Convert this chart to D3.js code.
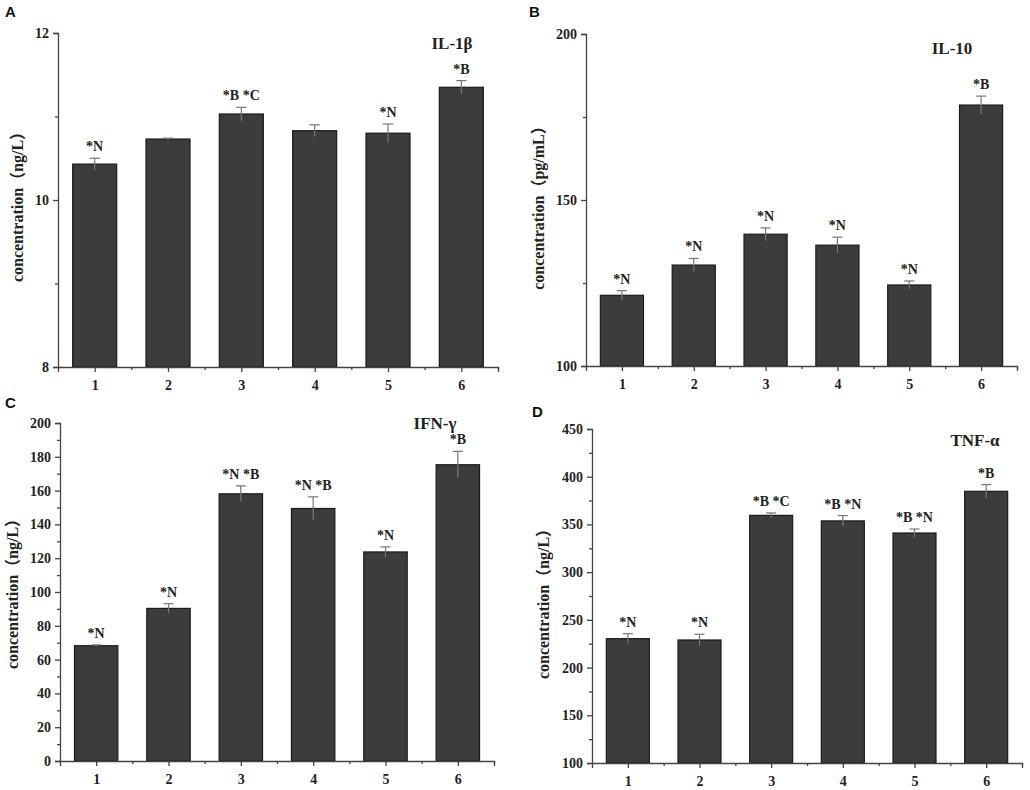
<!DOCTYPE html>
<html>
<head>
<meta charset="utf-8">
<script src="https://cdn.jsdelivr.net/npm/d3@7"></script>
<style>
  body { margin: 0; background: #fff; }
  svg { display: block; }
  .tick text { font-family: "Liberation Serif", "Times New Roman", serif; font-weight: bold; font-size: 14px; fill: #222; }
  .domain, .tick line { stroke: #444; stroke-width: 1.3px; }
</style>
</head>
<body>
<svg width="1030" height="790"></svg>
<script>
// groups on the x axis
var groups = [1, 2, 3, 4, 5, 6];

// A: IL-1beta (ng/L)
var il1bMean = [10.43, 10.73, 11.03, 10.83, 10.80, 11.35];
var il1bErr = [0.07, 0.01, 0.08, 0.07, 0.11, 0.08];
var il1bMarks = ["*N", "", "*B *C", "", "*N", "*B"];
var il1bTicks = [8, 10, 12];
var il1bMinor = [9, 11];

// B: IL-10 (pg/mL)
var il10Mean = [121.3, 130.4, 139.7, 136.4, 124.4, 178.6];
var il10Err = [1.4, 2.0, 1.9, 2.4, 1.2, 2.7];
var il10Marks = ["*N", "*N", "*N", "*N", "*N", "*B"];
var il10Ticks = [100, 150, 200];
var il10Minor = [125, 175];

// C: IFN-gamma (ng/L)
var ifnMean = [68.2, 90.3, 158.1, 149.4, 123.7, 175.3];
var ifnErr = [0.5, 2.8, 4.7, 6.9, 3.0, 7.9];
var ifnMarks = ["*N", "*N", "*N *B", "*N *B", "*N", "*B"];
var ifnTicks = [0, 20, 40, 60, 80, 100, 120, 140, 160, 180, 200];
var ifnMinor = [10, 30, 50, 70, 90, 110, 130, 150, 170, 190];

// D: TNF-alpha (ng/L)
var tnfMean = [230.3, 228.9, 359.5, 353.7, 341.0, 384.7];
var tnfErr = [5.2, 6.0, 2.5, 5.6, 4.2, 7.0];
var tnfMarks = ["*N", "*N", "*B *C", "*B *N", "*B *N", "*B"];
var tnfTicks = [100, 150, 200, 250, 300, 350, 400, 450];
var tnfMinor = [125, 175, 225, 275, 325, 375, 425];

var svg = d3.select("svg");
var serif = "'Liberation Serif', 'Times New Roman', 'Noto Sans CJK SC', serif";

function panel(o) {
  var x = d3.scaleLinear().domain([0.5, 6.5]).range([o.x0, o.x1]);
  var y = d3.scaleLinear().domain(o.domain).range([o.y1, o.y0]);
  var g = svg.append("g");

  // bars
  g.selectAll("rect.bar").data(o.mean).enter().append("rect")
    .attr("class", "bar")
    .attr("x", function(d, i) { return x(groups[i] - 0.3); })
    .attr("width", x(0.6) - x(0))
    .attr("y", function(d) { return y(d); })
    .attr("height", function(d) { return y(o.domain[0]) - y(d); })
    .attr("fill", "#3c3c3c")
    .attr("stroke", "#1a1a1a")
    .attr("stroke-width", 1.2);

  // error bars
  var eb = g.selectAll("g.err").data(o.mean).enter().append("g").attr("class", "err")
    .attr("stroke", "#777").attr("stroke-width", 1.2);
  eb.append("line")
    .attr("x1", function(d, i) { return x(groups[i]); })
    .attr("x2", function(d, i) { return x(groups[i]); })
    .attr("y1", function(d, i) { return y(d - o.err[i]); })
    .attr("y2", function(d, i) { return y(d + o.err[i]); });
  eb.append("line")
    .attr("x1", function(d, i) { return x(groups[i] - 0.07); })
    .attr("x2", function(d, i) { return x(groups[i] + 0.07); })
    .attr("y1", function(d, i) { return y(d + o.err[i]); })
    .attr("y2", function(d, i) { return y(d + o.err[i]); });

  // significance marks
  g.selectAll("text.mark").data(o.marks).enter().append("text")
    .attr("class", "mark")
    .attr("x", function(d, i) { return x(groups[i]); })
    .attr("y", function(d, i) { return y(o.mean[i] + o.err[i]) - 7; })
    .attr("text-anchor", "middle")
    .attr("font-family", serif).attr("font-weight", "bold").attr("font-size", 14)
    .attr("fill", "#222")
    .text(function(d) { return d; });

  // axes
  g.append("g").attr("transform", "translate(0," + o.y1 + ")")
    .call(d3.axisBottom(x).tickValues(groups).tickFormat(d3.format("d")).tickSizeOuter(0).tickSize(5).tickPadding(8));
  g.append("g").attr("transform", "translate(0," + o.y1 + ")")
    .call(d3.axisBottom(x).tickValues([1.5, 2.5, 3.5, 4.5, 5.5, 6.5]).tickFormat("").tickSizeOuter(0).tickSize(3))
    .select(".domain").remove();
  g.append("g").attr("transform", "translate(" + o.x0 + ",0)")
    .call(d3.axisLeft(y).tickValues(o.ticks).tickFormat(d3.format("d")).tickSizeOuter(0).tickSize(5).tickPadding(4));
  g.append("g").attr("transform", "translate(" + o.x0 + ",0)")
    .call(d3.axisLeft(y).tickValues(o.minor).tickFormat("").tickSizeOuter(0).tickSize(3))
    .select(".domain").remove();

  // y label
  g.append("text")
    .attr("transform", "translate(" + o.labelX + "," + o.labelY + ") rotate(-90)")
    .attr("text-anchor", "middle")
    .attr("font-family", serif).attr("font-weight", "bold").attr("font-size", 16)
    .attr("fill", "#222")
    .text(o.ylabel);

  // cytokine name
  g.append("text")
    .attr("x", o.titleX).attr("y", o.titleY)
    .attr("text-anchor", "middle")
    .attr("font-family", serif).attr("font-weight", "bold").attr("font-size", 17)
    .attr("fill", "#222")
    .text(o.title);

  // panel letter
  g.append("text")
    .attr("x", o.letterX).attr("y", o.letterY)
    .attr("font-family", "'Liberation Sans', Arial, sans-serif").attr("font-weight", "bold").attr("font-size", 15)
    .attr("fill", "#111")
    .text(o.letter);
}

panel({ letter: "A", letterX: 5, letterY: 17, x0: 58, x1: 498, y0: 33, y1: 367, domain: [8, 12],
  ticks: il1bTicks, minor: il1bMinor, mean: il1bMean, err: il1bErr, marks: il1bMarks,
  ylabel: "concentration（ng/L）", labelX: 23, labelY: 203, title: "IL-1β", titleX: 452, titleY: 49 });

panel({ letter: "B", letterX: 529, letterY: 17, x0: 586, x1: 1017, y0: 34, y1: 366, domain: [100, 200],
  ticks: il10Ticks, minor: il10Minor, mean: il10Mean, err: il10Err, marks: il10Marks,
  ylabel: "concentration（pg/mL）", labelX: 544, labelY: 204, title: "IL-10", titleX: 952, titleY: 54 });

panel({ letter: "C", letterX: 5, letterY: 408, x0: 60, x1: 494, y0: 423, y1: 761, domain: [0, 200],
  ticks: ifnTicks, minor: ifnMinor, mean: ifnMean, err: ifnErr, marks: ifnMarks,
  ylabel: "concentration（ng/L）", labelX: 18, labelY: 590, title: "IFN-γ", titleX: 435, titleY: 429 });

panel({ letter: "D", letterX: 532, letterY: 417, x0: 592, x1: 1022, y0: 429, y1: 763, domain: [100, 450],
  ticks: tnfTicks, minor: tnfMinor, mean: tnfMean, err: tnfErr, marks: tnfMarks,
  ylabel: "concentration（ng/L）", labelX: 549, labelY: 600, title: "TNF-α", titleX: 975, titleY: 446 });
</script>
</body>
</html>
